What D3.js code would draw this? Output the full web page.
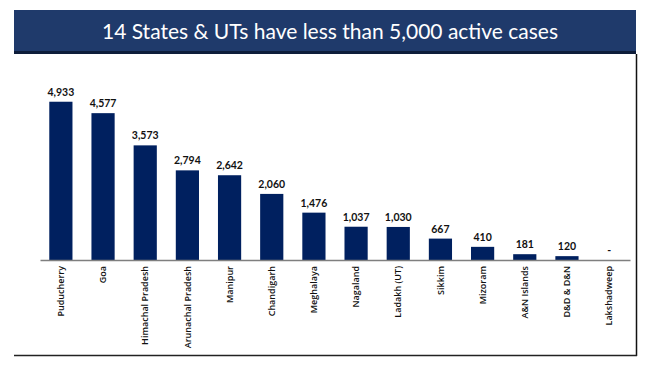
<!DOCTYPE html>
<html>
<head>
<meta charset="utf-8">
<script src="https://cdn.jsdelivr.net/npm/d3@7"></script>
<style>
  body { margin: 0; background: #fff; }
  text { font-family: "Lato", "Open Sans", sans-serif; }
</style>
</head>
<body>
<div id="chart-container"></div>
<script>
// chart data
const title = '14 States & UTs have less than 5,000 active cases';
const states = ['Puducherry', 'Goa', 'Himachal Pradesh', 'Arunachal Pradesh', 'Manipur',
  'Chandigarh', 'Meghalaya', 'Nagaland', 'Ladakh (UT)', 'Sikkim', 'Mizoram',
  'A&N Islands', 'D&D & D&N', 'Lakshadweep'];
const activeCases = [4933, 4577, 3573, 2794, 2642, 2060, 1476, 1037, 1030, 667, 410, 181, 120, 0];
const valueLabels = ['4,933', '4,577', '3,573', '2,794', '2,642', '2,060', '1,476',
  '1,037', '1,030', '667', '410', '181', '120', '-'];

const width = 660;
const height = 385;

const svg = d3.select('#chart-container')
  .append('svg')
  .attr('width', width)
  .attr('height', height);

// title banner
svg.append('rect')
  .attr('x', 14).attr('y', 10)
  .attr('width', 622).attr('height', 44)
  .attr('fill', '#1f3a6b');
svg.append('rect')
  .attr('x', 14).attr('y', 51)
  .attr('width', 622).attr('height', 3)
  .attr('fill', '#0e1d3a');
svg.append('text')
  .attr('x', 330).attr('y', 39)
  .attr('text-anchor', 'middle')
  .attr('fill', '#fff')
  .style('font-size', '21px')
  .text(title);

// frame lines (right + bottom)
svg.append('line')
  .attr('x1', 636.5).attr('x2', 636.5)
  .attr('y1', 54).attr('y2', 356)
  .attr('stroke', '#111').attr('stroke-width', 1.5);
svg.append('line')
  .attr('x1', 14).attr('x2', 637)
  .attr('y1', 355.5).attr('y2', 355.5)
  .attr('stroke', '#222').attr('stroke-width', 1.5);

// scales
const x = d3.scaleBand()
  .domain(states)
  .range([40, 630])
  .paddingInner(0.45)
  .paddingOuter(0.22);

const y = d3.scaleLinear()
  .domain([0, 6000])
  .range([260, 67.5]);

// bars
svg.selectAll('.bar')
  .data(states)
  .enter()
  .append('rect')
  .attr('class', 'bar')
  .attr('x', d => x(d))
  .attr('y', (d, i) => y(activeCases[i]))
  .attr('width', x.bandwidth())
  .attr('height', (d, i) => y(0) - y(activeCases[i]))
  .attr('fill', '#00205f');

// value labels
svg.selectAll('.value')
  .data(states)
  .enter()
  .append('text')
  .attr('class', 'value')
  .attr('x', d => x(d) + x.bandwidth() / 2)
  .attr('y', (d, i) => y(activeCases[i]) - 6)
  .attr('text-anchor', 'middle')
  .attr('fill', '#111')
  .style('font-size', '10.5px')
  .style('font-weight', 'bold')
  .text((d, i) => valueLabels[i]);

// x axis
const xAxis = d3.axisBottom(x).tickSize(0).tickPadding(0);
const gx = svg.append('g')
  .attr('transform', `translate(0, ${y(0)})`)
  .call(xAxis);
gx.select('.domain').attr('stroke', '#7f7f7f').attr('stroke-width', 1.5);
gx.selectAll('text')
  .attr('transform', 'rotate(-90)')
  .attr('text-anchor', 'end')
  .attr('x', -6)
  .attr('y', 0)
  .attr('dy', '0.35em')
  .attr('fill', '#111')
  .style('font-size', '9px')
  .style('font-family', '"Open Sans", sans-serif')
  .style('font-weight', '600');
</script>
</body>
</html>
